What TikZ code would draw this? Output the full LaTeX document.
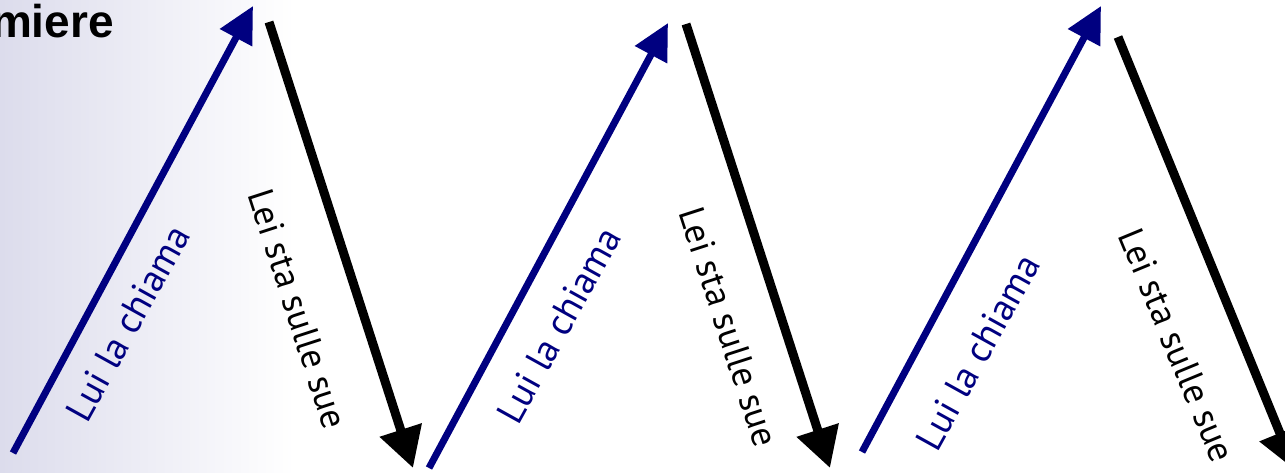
\documentclass[tikz,border=0pt]{standalone}
\usepackage{fontspec}
\setmainfont{PT Sans}
\newfontfamily\titlefont{Liberation Sans}
\usetikzlibrary{arrows.meta}
\definecolor{navyblue}{RGB}{0,0,128}
\definecolor{panel}{RGB}{220,220,236}
\begin{document}
\begin{tikzpicture}[x=1pt,y=-1pt,
  callarrow/.style={draw=navyblue, line width=7pt, -{Triangle[length=36pt,width=35pt]}},
  replyarrow/.style={draw=black, line width=9pt, -{Triangle[length=40pt,width=42pt]}},
  calltext/.style={text=navyblue, font=\fontsize{38}{44}\selectfont, inner sep=0pt},
  replytext/.style={text=black, font=\fontsize{36.5}{42}\selectfont, inner sep=0pt}]
\useasboundingbox (0,0) rectangle (1285,472);
\clip (0,0) rectangle (1285,472);
\shade[left color=panel, right color=white] (0,0) rectangle (295,472);

\node[font=\titlefont\bfseries\fontsize{46}{52}\selectfont, anchor=base east, inner sep=0pt] (title) at (114,37) {miere};

\coordinate (b1s) at (13,453);  \coordinate (b1e) at (253,6);
\coordinate (k1s) at (269,22);  \coordinate (k1e) at (413,468);
\coordinate (b2s) at (429,468); \coordinate (b2e) at (668,23);
\coordinate (k2s) at (686,24);  \coordinate (k2e) at (830,468);
\coordinate (b3s) at (862,452); \coordinate (b3e) at (1101,6);
\coordinate (k3s) at (1118,37); \coordinate (k3e) at (1295,470);

\draw[callarrow] (b1s) -- (b1e);
\draw[replyarrow] (k1s) -- (k1e);
\draw[callarrow] (b2s) -- (b2e);
\draw[replyarrow] (k2s) -- (k2e);
\draw[callarrow] (b3s) -- (b3e);
\draw[replyarrow] (k3s) -- (k3e);

\node[calltext, rotate=61] (c1) at (128,323) {Lui la chiama};
\node[replytext, rotate=-72] (r1) at (298,309) {Lei sta sulle sue};
\node[calltext, rotate=61] (c2) at (559,325) {Lui la chiama};
\node[replytext, rotate=-72] (r2) at (729,327) {Lei sta sulle sue};
\node[calltext, rotate=61] (c3) at (978,352) {Lui la chiama};
\node[replytext, rotate=-67.5] (r3) at (1177,345) {Lei sta sulle sue};
\end{tikzpicture}
\end{document}
